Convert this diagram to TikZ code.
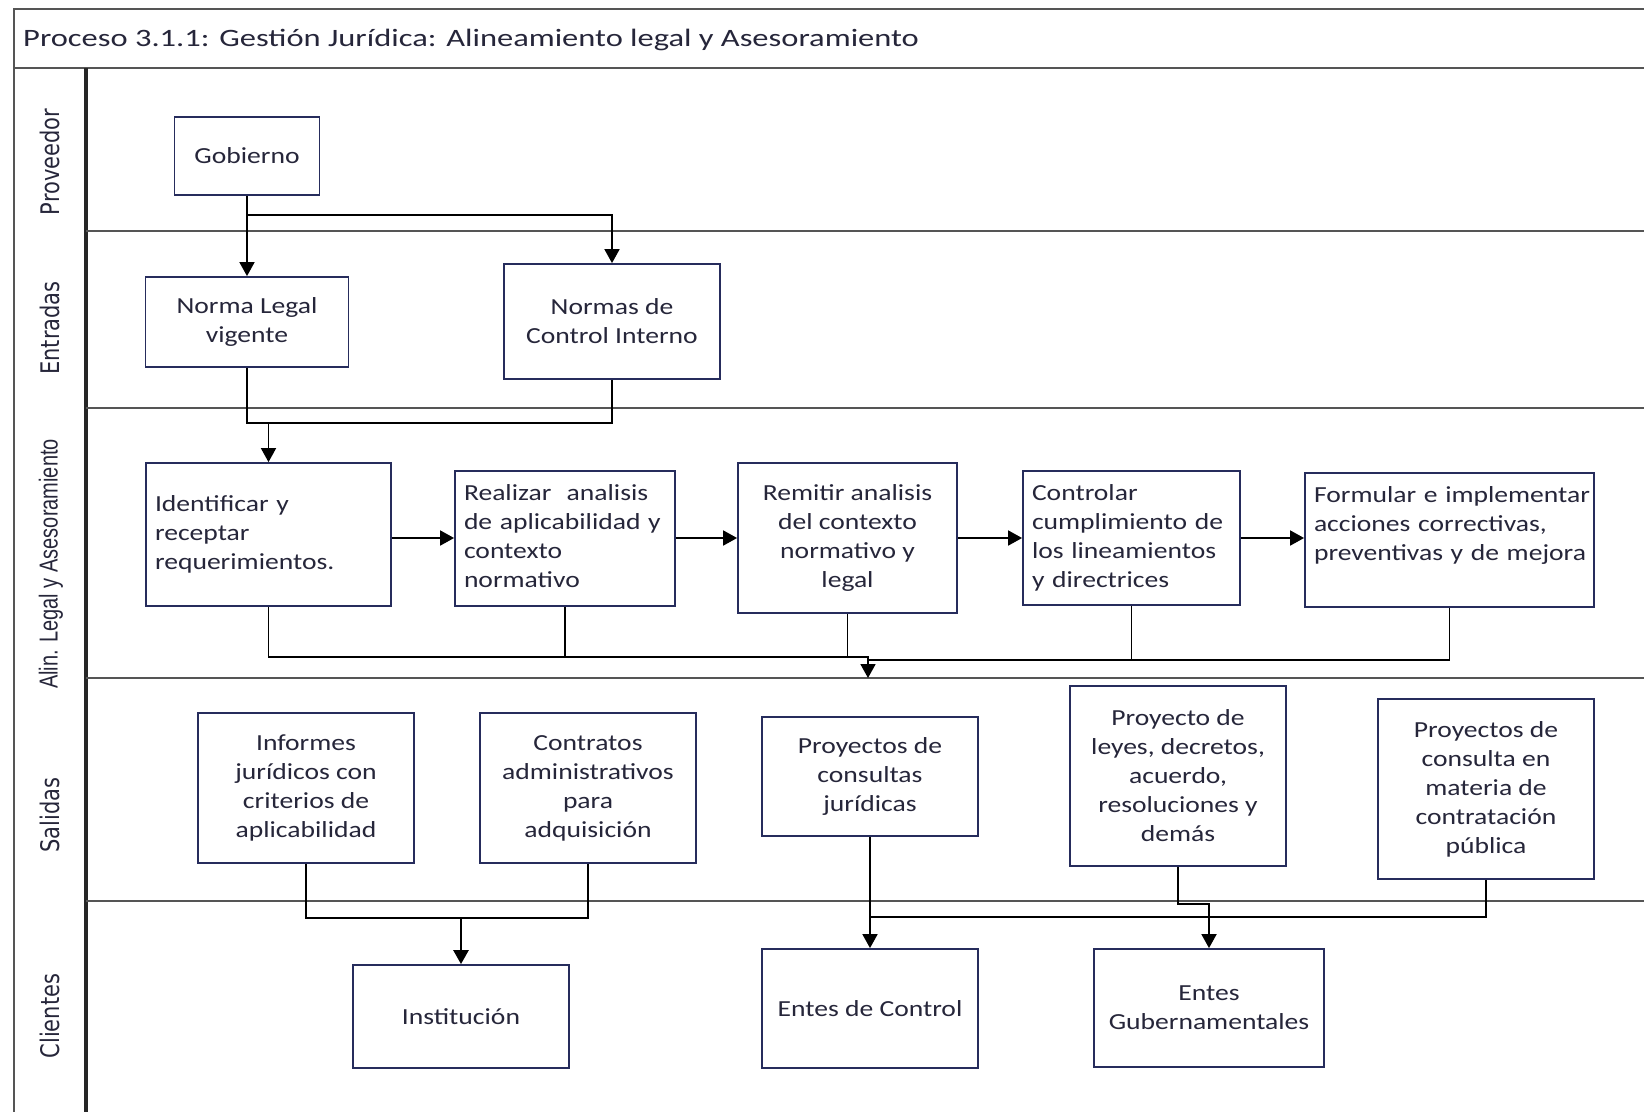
\documentclass[tikz,border=0pt]{standalone}
\usepackage{fontspec}
\setmainfont{Carlito}[FakeStretch=1.2]
\newfontfamily\titlefont{Carlito}[FakeStretch=1.3]
\newfontfamily\lanefont{DejaVu Sans}
\newfontfamily\alinfont{Liberation Sans}
\usetikzlibrary{arrows.meta}
\definecolor{boxline}{RGB}{38,44,92}
\definecolor{laneline}{RGB}{85,85,85}
\definecolor{ink}{RGB}{38,38,58}
% left-set block of lines that never re-breaks
\newcommand\leftlines[1]{\begin{tabular}{@{}l@{}}#1\end{tabular}}

\begin{document}
\begin{tikzpicture}[x=1pt,y=-1pt,
  box/.style={draw=boxline, line width=1.8pt, fill=white, align=center,
    inner sep=0pt, text=ink, font=\fontsize{23}{29}\selectfont},
  lbox/.style={box, align=left, text width=#1},
  sz/.style 2 args={minimum width=#1, minimum height=#2},
  conn/.style={line width=1.8pt, black},
  arr/.style={conn, -{Triangle[length=14pt,width=15pt]}},
  lane/.style={line width=1.6pt, laneline},
  lanelabel/.style={rotate=90, text=ink, inner sep=0pt}
]
\useasboundingbox (0,0) rectangle (1644,1112);

% frame, title bar and lane separators
\draw[lane] (1644,9) -- (14,9) -- (14,1112);
\draw[lane] (14,68) -- (1644,68);
\draw[line width=3.5pt, black!85] (86,68) -- (86,1112);
\foreach \yy in {231,408,678,901} \draw[lane] (86,\yy) -- (1644,\yy);

\node[anchor=west, text=ink, inner sep=0pt, font=\titlefont\fontsize{25}{30}\selectfont] (title) at (23,40)
  {Proceso 3.1.1: Gestión Jurídica: Alineamiento legal y Asesoramiento};

% lane names
\node[lanelabel] (lprov) at (50,162) {\lanefont\fontsize{21}{25}\selectfont\scalebox{1}[1.22]{Proveedor}};
\node[lanelabel] (lent) at (50,328) {\lanefont\fontsize{21}{25}\selectfont\scalebox{1}[1.22]{Entradas}};
\node[lanelabel] (lalin) at (51,564) {\alinfont\fontsize{20}{24}\selectfont\scalebox{1}[1.3]{Alin. Legal y Asesoramiento}};
\node[lanelabel] (lsal) at (50,815) {\lanefont\fontsize{21}{25}\selectfont\scalebox{1}[1.22]{Salidas}};
\node[lanelabel] (lcli) at (50,1016) {\lanefont\fontsize{21}{25}\selectfont\scalebox{1}[1.22]{Clientes}};

% supplier and inputs
\node[box, sz={145pt}{78pt}] (gob) at (247,156) {Gobierno};
\node[box, sz={203pt}{90pt}] (nl) at (247,322) {Norma Legal\\vigente};
\node[box, sz={216pt}{115pt}] (nc) at (612,321.5) {Normas de\\Control Interno};

% process activities
\node[lbox=227pt, sz={245pt}{143pt}] (id) at (268.5,534.5)
  {\leftlines{Identificar y\\receptar\\requerimientos.}};
\node[lbox=202pt, sz={220pt}{135pt}] (ra) at (565,538.5)
  {\leftlines{Realizar~ analisis\\de aplicabilidad y\\contexto\\normativo}};
\node[box, sz={219pt}{150pt}] (re) at (847.5,538)
  {Remitir analisis\\del contexto\\normativo y\\legal};
\node[lbox=199pt, sz={217pt}{134pt}] (co) at (1131.5,538)
  {\leftlines{Controlar\\cumplimiento de\\los lineamientos\\y directrices}};
\node[lbox=271pt, sz={289pt}{134pt}] (fo) at (1449.5,540)
  {\leftlines{Formular e implementar\\acciones correctivas,\\preventivas y de mejora\\\mbox{}}};

% outputs
\node[box, sz={216pt}{150pt}] (inf) at (306,788) {Informes\\jurídicos con\\criterios de\\aplicabilidad};
\node[box, sz={216pt}{150pt}] (ctr) at (588,788) {Contratos\\administrativos\\para\\adquisición};
\node[box, sz={216pt}{119pt}] (cj) at (870,776.5) {Proyectos de\\consultas\\jurídicas};
\node[box, sz={216pt}{180pt}] (ly) at (1178,776) {Proyecto de\\leyes, decretos,\\acuerdo,\\resoluciones y\\demás};
\node[box, sz={216pt}{180pt}] (ma) at (1486,789) {Proyectos de\\consulta en\\materia de\\contratación\\pública};

% clients
\node[box, sz={216pt}{103pt}] (ins) at (461,1016.5) {Institución};
\node[box, sz={216pt}{119pt}] (ec) at (870,1008.5) {Entes de Control};
\node[box, sz={230pt}{118pt}] (eg) at (1209,1008) {Entes\\Gubernamentales};

% junction rows
\coordinate (jgob) at (0,215);
\coordinate (jin) at (0,423);
\coordinate (jrow) at (0,538);
\coordinate (jleft) at (0,657);
\coordinate (jright) at (0,660);
\coordinate (mout) at (868,678);
\coordinate (jinst) at (0,918);
\coordinate (jcli) at (0,917);
\coordinate (jley) at (0,904);

% supplier to inputs
\draw[arr] (gob.south) -- (nl.north);
\draw[arr] (gob.south |- jgob) -| (nc.north);

% inputs to first activity
\draw[conn] (nl.south) |- (id.north |- jin);
\draw[conn] (nc.south) |- (id.north |- jin);
\draw[arr] (id.north |- jin) -- (id.north);

% activity chain
\draw[arr] (id.east |- jrow) -- (ra.west |- jrow);
\draw[arr] (ra.east |- jrow) -- (re.west |- jrow);
\draw[arr] (re.east |- jrow) -- (co.west |- jrow);
\draw[arr] (co.east |- jrow) -- (fo.west |- jrow);

% activities feed the outputs lane
\draw[conn] (id.south) |- (re.south |- jleft);
\draw[conn] (ra.south) -- (ra.south |- jleft);
\draw[arr] (re.south) |- (mout |- jleft) -- (mout);
\draw[conn] (fo.south) |- (mout |- jright);
\draw[conn] (co.south) -- (co.south |- jright);

% outputs to clients
\draw[conn] (inf.south) |- (ctr.south |- jinst) -- (ctr.south);
\draw[arr, line width=2.6pt] (ins.north |- jinst) -- (ins.north);
\draw[arr] (cj.south) -- (ec.north);
\draw[conn] (cj.south |- jcli) -- (eg.north |- jcli);
\draw[arr] (ly.south) |- (eg.north |- jley) -- (eg.north);
\draw[conn] (ma.south) |- (eg.north |- jcli);
\end{tikzpicture}
\end{document}
